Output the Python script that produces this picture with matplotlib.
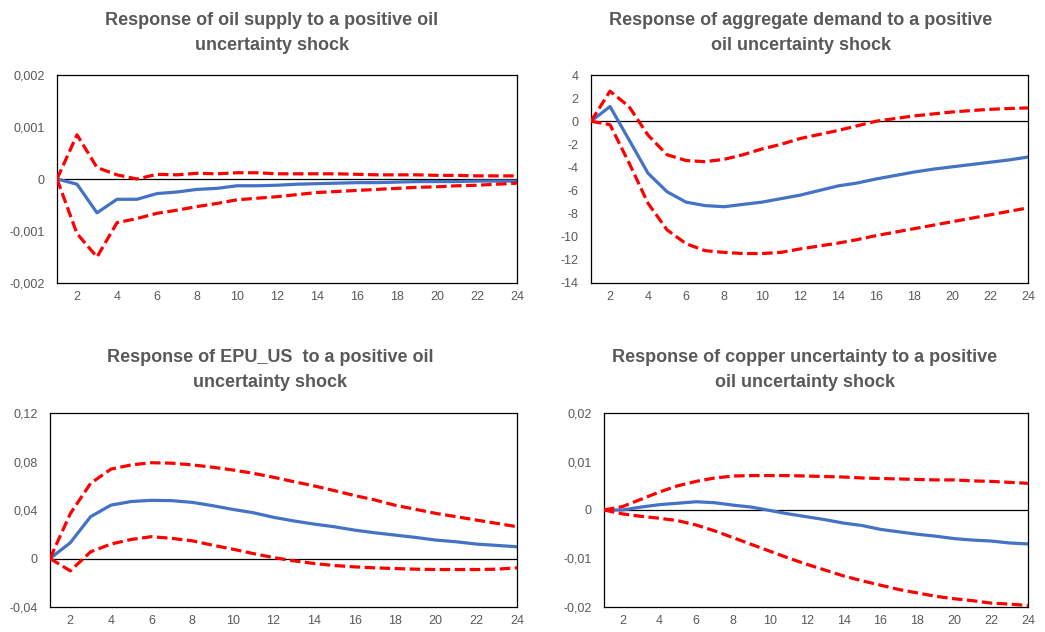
import matplotlib
matplotlib.use("Agg")
import matplotlib.pyplot as plt
from matplotlib.ticker import FuncFormatter

horizons = list(range(1, 25))

# Panel 1: oil supply
supply_mid = [0, -0.0001, -0.00065, -0.00039, -0.00039, -0.00028, -0.00025, -0.0002, -0.00018,
              -0.00013, -0.00013, -0.00012, -0.0001, -0.00009, -0.00008, -0.00007, -0.00007,
              -0.00006, -0.00005, -0.00005, -0.00005, -0.00004, -0.00004, -0.00004]
supply_up = [0, 0.00085, 0.00022, 0.00008, 0.0, 0.00009, 0.00008, 0.00011, 0.0001, 0.00012,
             0.00012, 0.0001, 0.0001, 0.0001, 0.0001, 0.00009, 0.00008, 0.00008, 0.00008,
             0.00007, 0.00007, 0.00006, 0.00006, 0.00006]
supply_lo = [0, -0.00105, -0.0015, -0.00084, -0.00076, -0.00066, -0.0006, -0.00053, -0.00047,
             -0.0004, -0.00037, -0.00034, -0.0003, -0.00026, -0.00024, -0.00022, -0.0002,
             -0.00018, -0.00016, -0.00015, -0.00013, -0.00012, -0.0001, -0.00008]

# Panel 2: aggregate demand
demand_mid = [0, 1.27, -1.6, -4.5, -6.1, -7.0, -7.3, -7.4, -7.2, -7.0, -6.7, -6.4, -6.0, -5.6,
              -5.35, -5.0, -4.7, -4.4, -4.15, -3.95, -3.75, -3.55, -3.35, -3.1]
demand_up = [0, 2.6, 1.27, -1.2, -2.9, -3.4, -3.5, -3.3, -2.9, -2.4, -2.0, -1.5, -1.15, -0.8,
             -0.4, 0.0, 0.23, 0.46, 0.63, 0.8, 0.92, 1.03, 1.1, 1.15]
demand_lo = [0, -0.3, -3.6, -7.1, -9.4, -10.6, -11.2, -11.35, -11.45, -11.45, -11.35, -11.05,
             -10.8, -10.55, -10.25, -9.9, -9.6, -9.3, -9.0, -8.7, -8.4, -8.1, -7.8, -7.5]

# Panel 3: EPU_US
epu_mid = [0, 0.013, 0.0345, 0.044, 0.047, 0.048, 0.0477, 0.0463, 0.0436, 0.0405, 0.0378, 0.034,
           0.031, 0.0284, 0.0262, 0.0234, 0.0212, 0.0193, 0.0174, 0.0152, 0.0138, 0.0119,
           0.0108, 0.0097]
epu_up = [0, 0.037, 0.062, 0.0737, 0.0772, 0.079, 0.0786, 0.0772, 0.0753, 0.073, 0.0703, 0.067,
          0.0634, 0.0599, 0.056, 0.0519, 0.0483, 0.0439, 0.0406, 0.0372, 0.0345, 0.0317, 0.029,
          0.0262]
epu_lo = [0, -0.0102, 0.0055, 0.0119, 0.0157, 0.018, 0.0166, 0.0146, 0.011, 0.0077, 0.0041,
          0.0008, -0.0019, -0.0041, -0.0058, -0.0069, -0.0077, -0.0083, -0.0088, -0.0091,
          -0.0091, -0.0091, -0.0088, -0.0077]

# Panel 4: copper uncertainty
copper_mid = [0, 0, 0.0006, 0.0011, 0.0014, 0.0017, 0.0015, 0.001, 0.0006, -0.0001, -0.0008,
              -0.0014, -0.002, -0.0027, -0.0032, -0.004, -0.0045, -0.005, -0.0054, -0.0059,
              -0.0062, -0.0064, -0.0068, -0.007]
copper_up = [0, 0.0007, 0.0022, 0.0037, 0.005, 0.0059, 0.0066, 0.007, 0.0071, 0.0071, 0.0071,
             0.007, 0.0069, 0.0068, 0.0066, 0.0065, 0.0064, 0.0063, 0.0062, 0.0062, 0.006,
             0.0059, 0.0057, 0.0055]
copper_lo = [0, -0.0008, -0.0013, -0.0017, -0.0022, -0.0031, -0.0043, -0.0057, -0.0071, -0.0085,
             -0.0099, -0.0112, -0.0124, -0.0136, -0.0146, -0.0155, -0.0164, -0.0171, -0.0178,
             -0.0183, -0.0187, -0.0192, -0.0194, -0.0197]

titles = [
    "Response of oil supply to a positive oil\nuncertainty shock",
    "Response of aggregate demand to a positive\noil uncertainty shock",
    "Response of EPU_US  to a positive oil\nuncertainty shock",
    "Response of copper uncertainty to a positive\noil uncertainty shock",
]
yticks = [
    [-0.002, -0.001, 0, 0.001, 0.002],
    [-14, -12, -10, -8, -6, -4, -2, 0, 2, 4],
    [-0.04, 0, 0.04, 0.08, 0.12],
    [-0.02, -0.01, 0, 0.01, 0.02],
]
xticks = list(range(2, 25, 2))

W, H = 1045, 632
fig = plt.figure(figsize=(W / 100, H / 100), dpi=100)
fig.patch.set_facecolor("white")

# axes boxes in pixels: left, right, top, bottom
boxes = [(57, 517, 75, 283), (591, 1028, 75, 283), (50, 517, 413, 607), (604, 1028, 413, 607)]
title_pos = [(272, 33), (801, 33), (270, 370), (805, 370)]
series = [
    (supply_mid, supply_up, supply_lo),
    (demand_mid, demand_up, demand_lo),
    (epu_mid, epu_up, epu_lo),
    (copper_mid, copper_up, copper_lo),
]

tick_color = "#595959"
fontfam = ["Liberation Sans", "DejaVu Sans"]


def fmt(v, pos):
    if abs(v) < 1e-12:
        return "0"
    s = ("%g" % v).replace(".", ",")
    if "e" in s:
        s = ("%.3f" % v).rstrip("0").replace(".", ",")
    return s


for i, ((l, r, t, b), (mid, up, lo)) in enumerate(zip(boxes, series)):
    ax = fig.add_axes([l / W, 1 - b / H, (r - l) / W, (b - t) / H])
    ax.axhline(0, color="black", lw=0.9, zorder=1)
    ax.plot(horizons, up, color="#FF0000", lw=2.3, ls=(0, (3.3, 1.4)), zorder=3)
    ax.plot(horizons, lo, color="#FF0000", lw=2.3, ls=(0, (3.3, 1.4)), zorder=3)
    ax.plot(horizons, mid, color="#4472C4", lw=2.3, zorder=2)
    ax.set_xlim(1, 24)
    yt = yticks[i]
    ax.set_ylim(yt[0], yt[-1])
    ax.set_yticks(yt)
    ax.set_xticks(xticks)
    ax.yaxis.set_major_formatter(FuncFormatter(fmt))
    ax.tick_params(length=0, labelsize=9, colors=tick_color, pad=9)
    ax.tick_params(axis="x", pad=6)
    for lab in ax.get_xticklabels() + ax.get_yticklabels():
        lab.set_family(fontfam)
    for sp in ax.spines.values():
        sp.set_color("black")
        sp.set_linewidth(0.9)
    tx, ty = title_pos[i]
    fig.text(tx / W, 1 - ty / H, titles[i], ha="center", va="center", fontsize=13,
             fontweight="bold", color=tick_color, family=fontfam, linespacing=1.55)

fig.savefig("out.png", dpi=100, facecolor="white")
